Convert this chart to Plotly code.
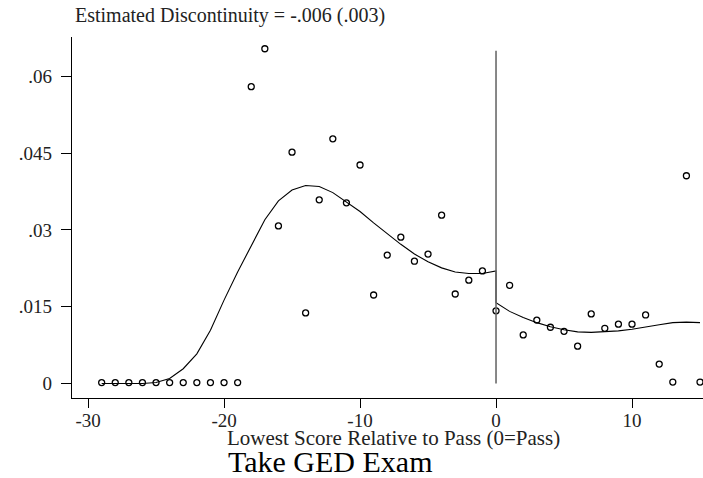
import plotly.graph_objects as go

# Binned means (score relative to pass)
score_bins = list(range(-29, 16))
share_take_ged = [
    0.0002, 0.0002, 0.0002, 0.0002, 0.0002, 0.0002, 0.0002, 0.0002, 0.0002, 0.0002, 0.0002,  # -29..-19
    0.0580, 0.0654, 0.0308, 0.0452, 0.0138, 0.0359, 0.0478, 0.0353, 0.0427, 0.0173,  # -18..-9
    0.0251, 0.0286, 0.0239, 0.0253, 0.0329, 0.0175, 0.0202, 0.0220,  # -8..-1
    0.0142, 0.0192, 0.0095, 0.0124, 0.0110, 0.0102, 0.0073, 0.0136,  # 0..7
    0.0108, 0.0116, 0.0116, 0.0134, 0.0038, 0.0003, 0.0406, 0.0003,  # 8..15
]

# Fitted polynomial (left and right of cutoff)
fit_left_x = list(range(-29, 1))
fit_left_y = [
    0.0000, 0.0000, 0.0000, 0.0000, 0.0002, 0.0010, 0.0029, 0.0058, 0.0104, 0.0163,
    0.0218, 0.0268, 0.0320, 0.0357, 0.0378, 0.0387, 0.0385, 0.0373, 0.0355, 0.0336,
    0.0314, 0.0293, 0.0272, 0.0253, 0.0238, 0.0226, 0.0218, 0.0215, 0.0215, 0.0220,
]
fit_right_x = list(range(0, 16))
fit_right_y = [
    0.0158, 0.0141, 0.0129, 0.0119, 0.0111, 0.0105, 0.0101, 0.0100,
    0.0101, 0.0103, 0.0106, 0.0111, 0.0115, 0.0119, 0.0120, 0.0119,
]

x_ticks = [-30, -20, -10, 0, 10]
x_ticktext = ["-30", "-20", "-10", "0", "10"]
y_ticks = [0, 0.015, 0.03, 0.045, 0.06]
y_ticktext = ["0", ".015", ".03", ".045", ".06"]
cutoff = 0
cutoff_top = 0.065

title_text = "Estimated Discontinuity = -.006 (.003)"
xaxis_text = "Lowest Score Relative to Pass (0=Pass)"
caption_text = "Take GED Exam"

FONT = "Liberation Serif"

fig = go.Figure()
fig.add_trace(go.Scatter(
    x=fit_left_x + fit_right_x, y=fit_left_y + fit_right_y,
    mode="lines", line=dict(color="black", width=1.1), hoverinfo="skip",
))
fig.add_trace(go.Scatter(
    x=score_bins, y=share_take_ged, mode="markers", cliponaxis=False,
    marker=dict(symbol="circle-open", size=6, color="black", line=dict(color="black", width=1.3)),
))
fig.add_shape(type="line", xref="x", yref="y", x0=cutoff, x1=cutoff, y0=0, y1=cutoff_top,
              line=dict(color="#6a6a6a", width=1.6))

W, H = 703, 478
L, R, T, B = 72, 0, 37, H - 397.7
pw, ph = W - L - R, H - T - B

def px(xp):  # window pixel -> paper x
    return (xp - L) / pw

def py(yp):  # window pixel -> paper y
    return (H - B - yp) / ph

fig.add_annotation(text=title_text, xref="paper", yref="paper", x=px(73), y=py(16),
                   xanchor="left", yanchor="middle", showarrow=False,
                   font=dict(family=FONT, size=20, color="#222"))
fig.add_annotation(text=xaxis_text, xref="paper", yref="paper", x=px(393.5), y=py(438),
                   xanchor="center", yanchor="middle", showarrow=False,
                   font=dict(family=FONT, size=21, color="#222"))
fig.add_annotation(text=caption_text, xref="paper", yref="paper", x=px(330.5), y=py(461),
                   xanchor="center", yanchor="middle", showarrow=False,
                   font=dict(family=FONT, size=30, color="black"))

fig.update_layout(
    width=W, height=H, margin=dict(l=L, r=R, t=T, b=B, autoexpand=False),
    paper_bgcolor="white", plot_bgcolor="white", showlegend=False,
    font=dict(family=FONT, color="#222"),
)
fig.update_xaxes(range=[-31.18, 15.22], tickvals=x_ticks, ticktext=x_ticktext, showgrid=False,
                 zeroline=False, showline=True, linecolor="black", linewidth=1.2, ticks="outside",
                 ticklen=9, tickcolor="black", tickwidth=1.2, ticklabelstandoff=-4,
                 tickfont=dict(size=19, family=FONT, color="#222"))
fig.update_yaxes(range=[-0.00282, 0.0677], tickvals=y_ticks, ticktext=y_ticktext, showgrid=False,
                 zeroline=False, showline=True, linecolor="black", linewidth=1.2, ticks="outside",
                 ticklen=10, tickcolor="black", tickwidth=1.2, ticklabelstandoff=5,
                 tickfont=dict(size=19, family=FONT, color="#222"))

# remove the browser's default page margin so the figure sits at the window origin
fig.write_html("out.html", config={"displayModeBar": False},
               post_script="document.body.style.margin='0';document.body.style.overflow='hidden';")
